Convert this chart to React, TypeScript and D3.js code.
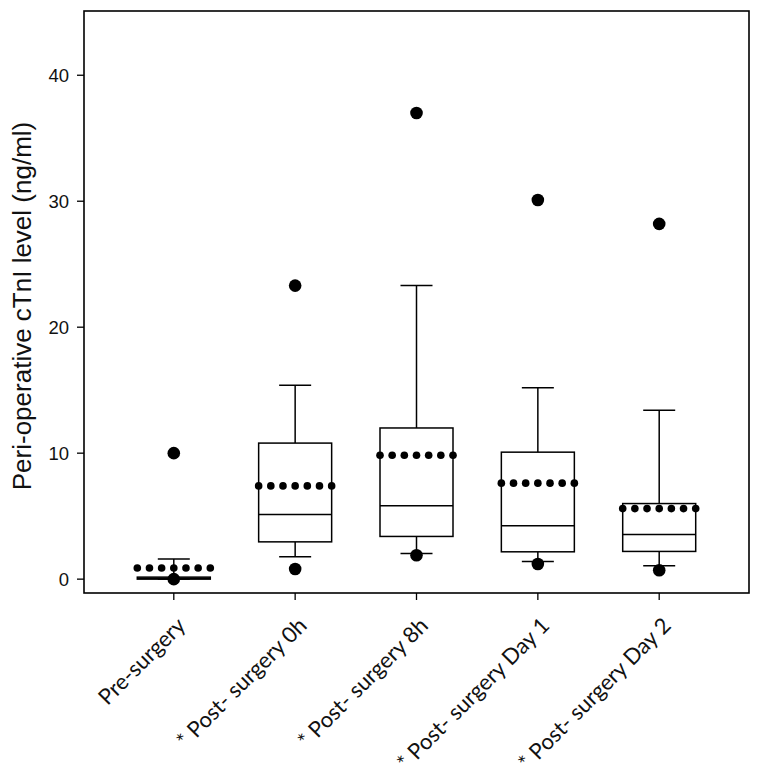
import React from "react";
import * as d3 from "d3";

const categories = ["Pre-surgery", "* Post- surgery 0h", "* Post- surgery 8h", "* Post- surgery Day 1", "* Post- surgery Day 2"];
const q1 = [0.0, 2.96, 3.39, 2.17, 2.2];
const medians = [0.08, 5.13, 5.82, 4.23, 3.55];
const q3 = [0.16, 10.8, 12.0, 10.08, 6.0];
const whiskerLow = [0.0, 1.77, 2.04, 1.4, 1.06];
const whiskerHigh = [1.6, 15.4, 23.3, 15.2, 13.4];
const means = [0.88, 7.4, 9.84, 7.62, 5.6];
const outlierHigh = [10.0, 23.3, 37.0, 30.1, 28.2];
const outlierLow = [0.0, 0.8, 1.9, 1.2, 0.7];
const yTicks = [0, 10, 20, 30, 40];

const W = 762, H = 777;
const left = 84, right = 749, top = 11, bottom = 593;

export default function App() {
  const x = d3.scalePoint<string>().domain(categories).range([left, right]).padding(0.74);
  const y = d3.scaleLinear().domain([-1.1, 45.1]).range([bottom, top]);
  const boxW = 73, capW = 32;
  const meanDots = d3.range(7);

  return (
    <svg width={W} height={H} style={{ position: "absolute", left: 0, top: 0 }}>
      <rect x={0} y={0} width={W} height={H} fill="white" />
      {categories.map((c, i) => {
        const cx = x(c)!;
        return (
          <g key={c}>
            <line x1={cx} x2={cx} y1={y(whiskerHigh[i])} y2={y(q3[i])} stroke="black" strokeWidth={1.5} />
            <line x1={cx} x2={cx} y1={y(whiskerLow[i])} y2={y(q1[i])} stroke="black" strokeWidth={1.5} />
            <line x1={cx - capW / 2} x2={cx + capW / 2} y1={y(whiskerHigh[i])} y2={y(whiskerHigh[i])} stroke="black" strokeWidth={1.5} />
            <line x1={cx - capW / 2} x2={cx + capW / 2} y1={y(whiskerLow[i])} y2={y(whiskerLow[i])} stroke="black" strokeWidth={1.5} />
            <rect x={cx - boxW / 2} y={y(q3[i])} width={boxW} height={Math.max(0, y(q1[i]) - y(q3[i]))} fill="white" stroke="black" strokeWidth={1.5} />
            <line x1={cx - boxW / 2} x2={cx + boxW / 2} y1={y(medians[i])} y2={y(medians[i])} stroke="black" strokeWidth={1.5} />
            {meanDots.map((k) => (
              <circle key={k} cx={cx - boxW / 2 + (k * boxW) / 6} cy={y(means[i])} r={3.8} fill="black" />
            ))}
            <circle cx={cx} cy={y(outlierHigh[i])} r={6.3} fill="black" />
            <circle cx={cx} cy={y(outlierLow[i])} r={6.3} fill="black" />
          </g>
        );
      })}
      <rect x={left} y={top} width={right - left} height={bottom - top} fill="none" stroke="black" strokeWidth={1.6} />
      {yTicks.map((t) => (
        <g key={t}>
          <line x1={left - 7} x2={left} y1={y(t)} y2={y(t)} stroke="black" strokeWidth={1.3} />
          <text x={left - 15} y={y(t)} dy="0.36em" textAnchor="end" fontFamily="Liberation Sans, Arial, sans-serif" fontSize={18.5} fill="#111">{t}</text>
        </g>
      ))}
      {categories.map((c) => {
        const cx = x(c)!;
        return (
          <g key={"xl" + c}>
            <line x1={cx} x2={cx} y1={bottom} y2={bottom + 7} stroke="black" strokeWidth={1.3} />
            <text transform={`translate(${cx + 13},${bottom + 34}) rotate(-45)`} textAnchor="end" fontFamily="Lato, Open Sans, sans-serif" fontSize={22} fill="#111">{c}</text>
          </g>
        );
      })}
      <text transform={`translate(31,306) rotate(-90)`} textAnchor="middle" fontFamily="Liberation Sans, Arial, sans-serif" fontSize={26} fill="#111">Peri-operative cTnI level (ng/ml)</text>
    </svg>
  );
}
